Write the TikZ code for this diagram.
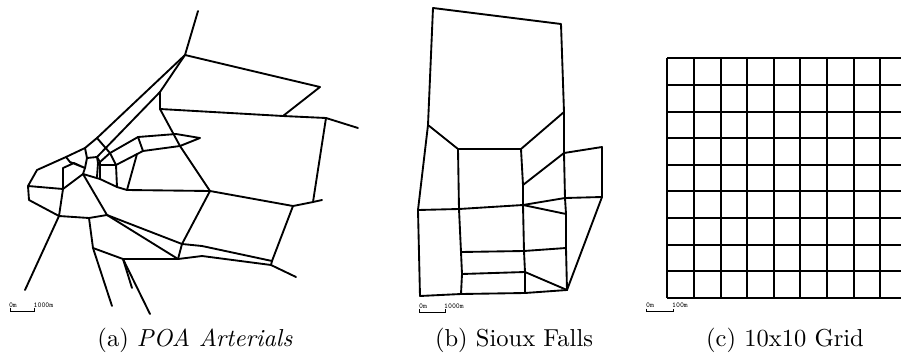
\documentclass[tikz,border=0pt]{standalone}
\usepackage{tikz}

\begin{document}
\begin{tikzpicture}[
    x=0.75pt,y=-0.75pt,
    road/.style={draw=black,line width=1.4pt,line join=round,line cap=round},
    gridline/.style={draw=black,line width=1.5pt},
    scalebar/.style={draw=black,line width=0.7pt},
    scalelabel/.style={font=\fontsize{5.6}{6}\selectfont\ttfamily,inner sep=0pt},
    subcaption/.style={font=\fontsize{10}{12}\selectfont,scale=1.84,anchor=base,inner sep=0pt}
  ]
    \useasboundingbox (0,0) rectangle (901,354);
    % POA Arterials
    \coordinate (p1) at (198,11);
    \coordinate (p2) at (185,55);
    \coordinate (p3) at (320,87);
    \coordinate (p4) at (283,116);
    \coordinate (p5) at (160,109);
    \coordinate (p6) at (326,118);
    \coordinate (p7) at (358,128);
    \coordinate (p9) at (313,202);
    \coordinate (p10) at (322,200);
    \coordinate (p11) at (293,206);
    \coordinate (p12) at (210,191);
    \coordinate (p13) at (272,261);
    \coordinate (p14) at (296,277);
    \coordinate (p15) at (271,265);
    \coordinate (p16) at (127,190);
    \coordinate (p17) at (182,244);
    \coordinate (p18) at (178,259);
    \coordinate (p19) at (202,246);
    \coordinate (p20) at (202,256);
    \coordinate (p21) at (160,92);
    \coordinate (p22) at (97,138);
    \coordinate (p23) at (85,148);
    \coordinate (p24) at (66,157);
    \coordinate (p25) at (37,170);
    \coordinate (p26) at (28,186);
    \coordinate (p27) at (29,200);
    \coordinate (p28) at (59,216);
    \coordinate (p29) at (63,189);
    \coordinate (p30) at (25,290);
    \coordinate (p31) at (89,218);
    \coordinate (p32) at (107,215);
    \coordinate (p33) at (83,174);
    \coordinate (p34) at (63,168);
    \coordinate (p35) at (74,163);
    \coordinate (p36) at (85,168);
    \coordinate (p37) at (70,162);
    \coordinate (p38) at (87,158);
    \coordinate (p39) at (97,157);
    \coordinate (p40) at (100,162);
    \coordinate (p41) at (100,179);
    \coordinate (p42) at (117,187);
    \coordinate (p43) at (110,153);
    \coordinate (p44) at (116,165);
    \coordinate (p45) at (138,137);
    \coordinate (p46) at (176,134);
    \coordinate (p47) at (200,138);
    \coordinate (p48) at (180,146);
    \coordinate (p49) at (143,151);
    \coordinate (p51) at (137,154);
    \coordinate (p52) at (93,248);
    \coordinate (p53) at (112,306);
    \coordinate (p54) at (123,259);
    \coordinate (p55) at (132,288);
    \coordinate (p56) at (150,314);
    \coordinate (p57) at (98,163);
    \coordinate (p58) at (97,177);
    \coordinate (p59) at (100,165);
    \draw[road] (p1) -- (p2) -- (p3) -- (p4) -- (p6) -- (p7);
    \draw[road] (p2) -- (p21) -- (p5) -- (p4);
    \draw[road] (p21) -- (p39) -- (p38) -- (p23);
    \draw[road] (p2) -- (p22) -- (p23) -- (p24) -- (p25) -- (p26) -- (p27) -- (p28) -- (p29) -- (p26);
    \draw[road] (p22) -- (p43) -- (p44) -- (p42) -- (p41) -- (p33) -- (p36) -- (p38);
    \draw[road] (p24) -- (p37) -- (p36) -- (p35) -- (p34) -- (p29) -- (p33) -- (p32) -- (p31) -- (p28) -- (p30);
    \draw[road] (p39) -- (p40) -- (p59) -- (p41);
    \draw[road] (p39) -- (p57) -- (p58);
    \draw[road] (p40) -- (p43) -- (p45) -- (p46) -- (p47) -- (p48) -- (p49) -- (p44) -- (p59);
    \draw[road] (p45) -- (p49);
    \draw[road] (p51) -- (p16);
    \draw[road] (p42) -- (p16) -- (p12);
    \draw[road] (p5) -- (p48) -- (p12) -- (p17) -- (p18);
    \draw[road] (p12) -- (p11) -- (p9) -- (p6);
    \draw[road] (p9) -- (p10);
    \draw[road] (p11) -- (p13) -- (p15) -- (p14);
    \draw[road] (p32) -- (p17) -- (p19) -- (p13);
    \draw[road] (p32) -- (p18) -- (p20) -- (p15);
    \draw[road] (p31) -- (p52) -- (p53);
    \draw[road] (p52) -- (p54) -- (p18);
    \draw[road] (p54) -- (p55);
    \draw[road] (p54) -- (p56);
    \coordinate (s1) at (10,308);
    \coordinate (s2) at (10,311.7);
    \coordinate (s3) at (34,311.7);
    \coordinate (s4) at (34,308);
    \draw[scalebar] (s1) -- (s2) -- (s3) -- (s4);
    \node[scalelabel] (poazero) at (13,305) {0m};
    \node[scalelabel] (poakm) at (43.5,305) {1000m};
    \node[subcaption] (poacap) at (195,346) {(a) \textit{POA Arterials}};
    % Sioux Falls
    \coordinate (sa) at (433,8);
    \coordinate (sb) at (561,24);
    \coordinate (sc) at (564,112);
    \coordinate (sd) at (428,125);
    \coordinate (se) at (458,149);
    \coordinate (sf) at (521,149);
    \coordinate (sg) at (564,153);
    \coordinate (sh) at (602,147);
    \coordinate (si) at (602,197);
    \coordinate (sj) at (565,198);
    \coordinate (sk) at (523,205);
    \coordinate (sl) at (459,209);
    \coordinate (sm) at (418,210);
    \coordinate (sn) at (420,296);
    \coordinate (so) at (461,294);
    \coordinate (sp) at (525,293);
    \coordinate (sq) at (567,290);
    \coordinate (sr) at (566,214);
    \coordinate (ss) at (461,252);
    \coordinate (st) at (524,251);
    \coordinate (su) at (566,248);
    \coordinate (sv) at (462,274);
    \coordinate (sw) at (525,272);
    \coordinate (sx) at (523,185);
    \draw[road] (sa) -- (sb) -- (sc) -- (sg) -- (sj) -- (sr) -- (su) -- (sq);
    \draw[road] (sa) -- (sd) -- (sm) -- (sn) -- (so) -- (sp) -- (sq) -- (si) -- (sh) -- (sg) -- (sx);
    \draw[road] (sc) -- (sf) -- (se) -- (sd);
    \draw[road] (sf) -- (sx) -- (sk) -- (st) -- (sw) -- (sp);
    \draw[road] (se) -- (sl) -- (ss) -- (sv) -- (so);
    \draw[road] (sm) -- (sl) -- (sk) -- (sj) -- (si);
    \draw[road] (sk) -- (sr);
    \draw[road] (ss) -- (st) -- (su);
    \draw[road] (sv) -- (sw) -- (sq);
    \coordinate (t1) at (419.5,309);
    \coordinate (t2) at (419.5,312);
    \coordinate (t3) at (445.5,312);
    \coordinate (t4) at (445.5,309);
    \draw[scalebar] (t1) -- (t2) -- (t3) -- (t4);
    \node[scalelabel] (siouxzero) at (423,306) {0m};
    \node[scalelabel] (siouxkm) at (454,306) {1000m};
    \node[subcaption] (siouxcap) at (514,346) {(b) Sioux Falls};
    % 10x10 Grid
    \foreach \i in {0,...,8} {
      \coordinate (gt\i) at (667.3+26.63*\i,58.3);
      \coordinate (gb\i) at (667.3+26.63*\i,298);
      \draw[gridline] (gt\i) -- (gb\i);
    }
    \foreach \j in {0,...,9} {
      \coordinate (gl\j) at (667.3,58.3+26.63*\j);
      \coordinate (gr\j) at (901,58.3+26.63*\j);
      \draw[gridline] (gl\j) -- (gr\j);
    }
    \coordinate (u1) at (646.3,308.7);
    \coordinate (u2) at (646.3,311.7);
    \coordinate (u3) at (673.3,311.7);
    \coordinate (u4) at (673.3,308.7);
    \draw[scalebar] (u1) -- (u2) -- (u3) -- (u4);
    \node[scalelabel] (gridzero) at (650,305.7) {0m};
    \node[scalelabel] (gridhm) at (680,305.7) {100m};
    \node[subcaption] (gridcap) at (785,346) {(c) 10x10 Grid};
\end{tikzpicture}
\end{document}
